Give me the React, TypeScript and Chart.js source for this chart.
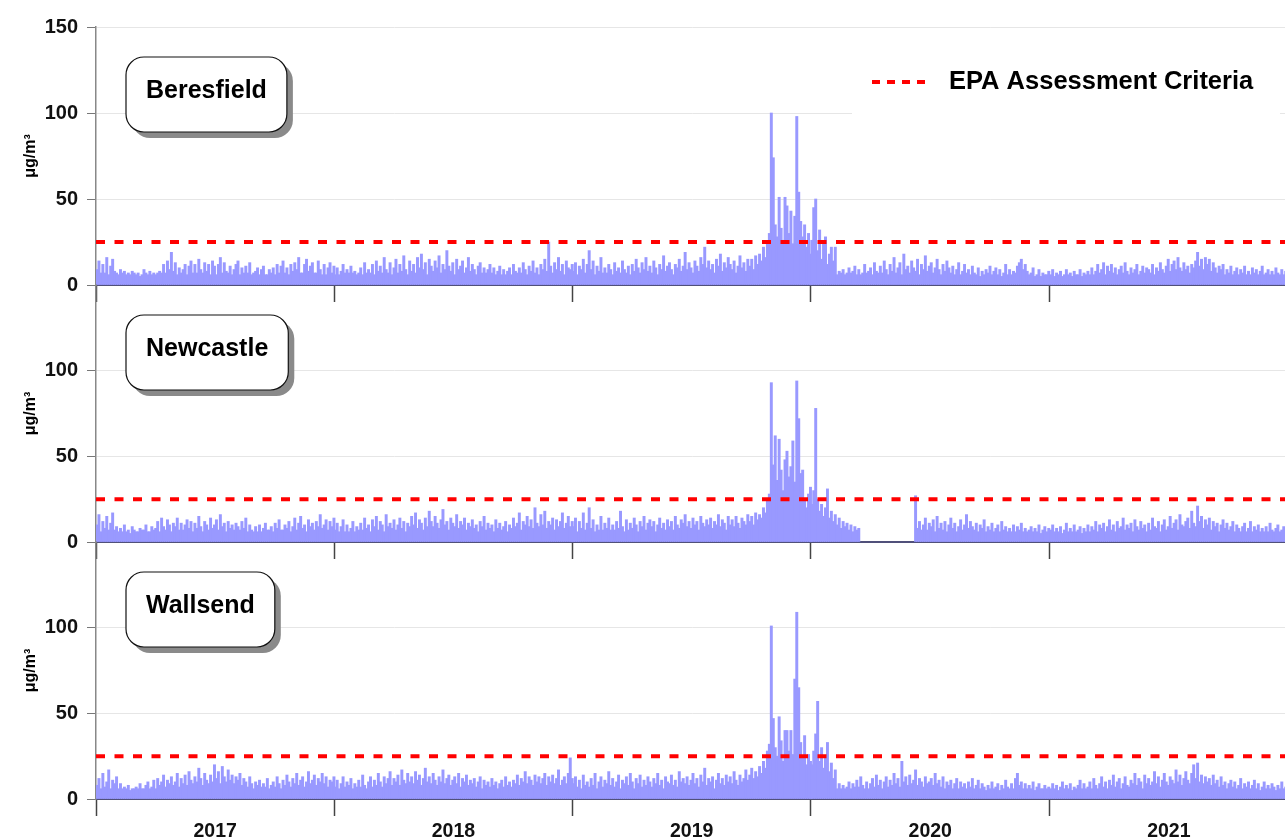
import { useEffect, useRef } from "react";
import { Chart, registerables } from "chart.js";

Chart.register(...registerables);

// PM2.5 24-hour averages, grouped into 3-day bins (122 bins per year)
const BIN_DAYS = 3;
const YEARS = ["2017", "2018", "2019", "2020", "2021"];
const YEAR_DAYS = [365, 365, 365, 366, 365];
const CRITERIA = 25;
const Y_MAX = 150;
const Y_STEP = 50;
const UNIT_LABEL = "μg/m³";
const LEGEND_LABEL = "EPA Assessment Criteria";
const STATION_NAMES = ["Beresfield", "Newcastle", "Wallsend"];

const beresfield2017 = [
  9, 14, 7, 12, 7, 16, 6, 11, 15, 8,
  7, 6, 9, 7, 8, 6, 7, 6, 8, 7,
  6, 7, 5, 6, 9, 7, 6, 8, 6, 7,
  6, 7, 8, 7, 12, 7, 14, 9, 19, 8,
  13, 6, 10, 7, 9, 12, 6, 11, 14, 7,
  12, 7, 15, 9, 7, 13, 8, 12, 6, 14,
  11, 6, 12, 16, 7, 13, 8, 7, 11, 6,
  9, 12, 14, 6, 10, 7, 11, 7, 13, 6,
  7, 8, 10, 6, 9, 11, 6, 6, 9, 7,
  10, 6, 12, 7, 11, 14, 7, 10, 6, 12,
  8, 13, 9, 16, 7, 7, 12, 15, 8, 11,
  13, 7, 7, 14, 9, 6, 12, 6, 10, 13,
  7, 11,
];
const beresfield2018 = [
  6, 10, 6, 8, 12, 7, 9, 7, 11, 7,
  8, 6, 7, 10, 6, 13, 7, 9, 7, 12,
  6, 14, 8, 11, 7, 16, 9, 7, 13, 6,
  10, 15, 7, 12, 8, 17, 9, 6, 14, 8,
  12, 7, 16, 10, 18, 9, 13, 6, 15, 11,
  8, 14, 10, 17, 7, 12, 9, 20, 11, 8,
  13, 6, 15, 9, 11, 14, 7, 10, 16, 8,
  12, 9, 6, 11, 13, 7, 10, 7, 9, 12,
  7, 10, 6, 8, 11, 6, 9, 6, 8, 10,
  6, 12, 8, 7, 10, 7, 13, 9, 6, 11,
  8, 14, 7, 10, 6, 12, 9, 15, 8, 25,
  11, 7, 13, 9, 16, 8, 12, 6, 14, 10,
  9, 12,
];
const beresfield2019 = [
  8, 13, 6, 11, 9, 15, 7, 12, 20, 9,
  14, 6, 11, 8, 16, 7, 10, 7, 12, 9,
  6, 13, 8, 10, 7, 14, 9, 7, 11, 6,
  12, 8, 15, 10, 7, 13, 9, 16, 8, 11,
  7, 14, 10, 6, 12, 9, 17, 8, 11, 13,
  9, 6, 12, 10, 15, 8, 11, 19, 9, 13,
  10, 7, 14, 11, 8, 16, 12, 22, 10, 14,
  9, 12, 7, 15, 11, 18, 8, 13, 10, 16,
  12, 9, 14, 7, 11, 17, 10, 13, 8, 15,
  11, 15, 9, 17, 12, 18, 14, 22, 16, 25,
  30, 100, 74, 35, 28, 51, 33, 26, 51, 46,
  30, 43, 24, 40, 98, 54, 37, 28, 35, 22,
  30, 18,
];
const beresfield2020 = [
  26, 45, 50, 20, 32, 15, 24, 28, 12, 18,
  22, 14, 22, 6, 8, 7, 9, 6, 7, 10,
  7, 8, 11, 6, 9, 6, 7, 12, 7, 8,
  10, 6, 13, 8, 7, 11, 7, 14, 9, 6,
  12, 8, 16, 7, 10, 13, 6, 18, 9, 11,
  7, 14, 10, 8, 15, 6, 12, 9, 17, 8,
  11, 13, 7, 10, 15, 9, 6, 12, 8, 14,
  10, 7, 11, 6, 9, 13, 6, 8, 12, 7,
  9, 6, 11, 7, 6, 10, 5, 8, 6, 9,
  7, 11, 6, 8, 10, 6, 9, 5, 7, 12,
  6, 9, 6, 8, 7, 11, 13, 15, 9, 12,
  8, 6, 7, 10, 5, 6, 9, 5, 7, 6,
  6, 8,
];
const beresfield2021 = [
  6, 9, 5, 7, 6, 8, 5, 6, 9, 6,
  7, 5, 8, 6, 6, 9, 5, 7, 6, 8,
  6, 10, 6, 8, 12, 7, 9, 13, 6, 11,
  8, 12, 7, 10, 6, 9, 11, 7, 13, 8,
  6, 10, 7, 9, 12, 6, 8, 11, 7, 10,
  9, 7, 12, 6, 10, 8, 13, 9, 7, 11,
  15, 8, 12, 14, 9, 16, 10, 8, 13, 9,
  11, 7, 12, 10, 14, 19, 11, 15, 9, 16,
  12, 15, 8, 13, 10, 7, 11, 9, 12, 6,
  9, 7, 11, 6, 8, 10, 6, 9, 7, 11,
  6, 8, 6, 10, 7, 9, 6, 8, 11, 6,
  7, 9, 6, 8, 6, 10, 7, 6, 9, 6,
  8, 6,
];

const newcastle2017 = [
  10, 16, 6, 12, 8, 15, 7, 11, 17, 7,
  9, 6, 8, 6, 10, 6, 7, 5, 9, 7,
  6, 6, 8, 7, 7, 10, 6, 6, 9, 7,
  8, 12, 6, 14, 9, 7, 13, 10, 6, 11,
  9, 14, 7, 11, 7, 10, 13, 8, 12, 6,
  11, 8, 15, 9, 6, 12, 10, 7, 14, 8,
  10, 13, 7, 16, 9, 11, 6, 12, 8, 10,
  7, 11, 9, 7, 12, 8, 14, 6, 10, 7,
  6, 9, 6, 10, 6, 8, 11, 7, 7, 9,
  6, 11, 8, 13, 7, 7, 10, 8, 12, 6,
  9, 14, 7, 11, 15, 8, 10, 6, 13, 9,
  11, 7, 12, 9, 16, 8, 10, 13, 7, 12,
  9, 14,
];
const newcastle2018 = [
  7, 11, 6, 9, 13, 6, 10, 6, 8, 12,
  6, 9, 7, 11, 7, 14, 8, 10, 6, 13,
  9, 15, 7, 12, 10, 6, 16, 9, 11, 8,
  13, 7, 10, 14, 8, 12, 6, 11, 9, 15,
  10, 17, 8, 13, 11, 7, 14, 9, 18, 12,
  9, 15, 11, 8, 13, 19, 10, 12, 7, 14,
  11, 9, 16, 8, 12, 10, 14, 7, 11, 9,
  13, 8, 10, 6, 12, 9, 15, 7, 11, 8,
  10, 6, 13, 8, 11, 7, 9, 12, 6, 10,
  8, 14, 9, 11, 17, 7, 12, 10, 15, 9,
  13, 8, 20, 11, 9, 16, 10, 18, 8, 12,
  10, 14, 7, 13, 9, 12, 17, 8, 11, 15,
  9, 12,
];
const newcastle2019 = [
  9, 14, 6, 12, 8, 17, 7, 11, 20, 8,
  13, 6, 10, 7, 15, 7, 11, 8, 14, 7,
  10, 7, 12, 8, 18, 9, 6, 13, 7, 11,
  8, 14, 10, 6, 12, 9, 15, 7, 11, 13,
  9, 12, 6, 10, 14, 8, 11, 7, 13, 9,
  12, 7, 15, 10, 8, 13, 11, 16, 9, 12,
  8, 14, 10, 12, 7, 15, 11, 9, 13, 10,
  14, 8, 12, 10, 16, 9, 13, 11, 7, 15,
  10, 13, 9, 15, 11, 8, 14, 12, 10, 16,
  12, 15, 10, 17, 13, 16, 14, 20, 17, 24,
  28, 93, 45, 62, 36, 60, 42, 30, 48, 53,
  38, 44, 59, 35, 94, 72, 40, 42, 24, 20,
  28, 32,
];
// monitor offline from mid-March to early June 2020
const newcastle2020 = [
  22, 30, 78, 25, 18, 22, 15, 20, 31, 14,
  18, 12, 16, 10, 14, 8, 12, 9, 11, 7,
  10, 6, 9, 7, 8, null, null, null, null, null,
  null, null, null, null, null, null, null, null, null, null,
  null, null, null, null, null, null, null, null, null, null,
  null, null, null, 27, 8, 12, 7, 10, 14, 7,
  11, 9, 13, 6, 15, 8, 11, 7, 12, 6,
  10, 14, 8, 11, 6, 9, 13, 7, 10, 16,
  8, 12, 9, 7, 11, 6, 10, 8, 13, 6,
  9, 7, 11, 6, 8, 10, 6, 12, 7, 9,
  6, 8, 6, 10, 6, 9, 7, 11, 6, 8,
  6, 7, 9, 6, 8, 6, 10, 5, 7, 9,
  6, 8,
];
const newcastle2021 = [
  7, 10, 6, 8, 6, 9, 5, 7, 11, 6,
  8, 6, 10, 6, 7, 9, 5, 8, 6, 10,
  6, 9, 7, 12, 6, 10, 8, 11, 6, 9,
  13, 7, 10, 6, 12, 8, 9, 14, 7, 10,
  8, 11, 6, 13, 9, 7, 12, 8, 10, 6,
  11, 7, 14, 9, 8, 12, 6, 10, 13, 7,
  9, 15, 8, 11, 13, 7, 16, 10, 9, 12,
  14, 8, 18, 11, 9, 21, 12, 15, 8, 13,
  10, 14, 7, 12, 9, 11, 6, 10, 13, 8,
  11, 7, 9, 12, 6, 10, 8, 6, 9, 11,
  6, 8, 12, 6, 9, 7, 10, 6, 8, 6,
  9, 6, 11, 7, 6, 8, 10, 6, 7, 9,
  6, 8,
];

const wallsend2017 = [
  8, 12, 6, 15, 7, 10, 17, 6, 11, 9,
  13, 6, 9, 6, 7, 6, 8, 5, 6, 6,
  7, 6, 9, 6, 6, 8, 10, 6, 7, 11,
  6, 12, 8, 10, 14, 7, 11, 9, 13, 8,
  10, 15, 7, 12, 9, 14, 8, 16, 11, 9,
  13, 10, 18, 12, 8, 15, 11, 9, 14, 10,
  20, 12, 16, 9, 19, 13, 10, 17, 11, 14,
  9, 13, 11, 15, 8, 12, 10, 7, 13, 9,
  6, 10, 8, 11, 7, 9, 7, 12, 6, 8,
  10, 7, 13, 9, 6, 11, 8, 14, 10, 7,
  12, 9, 15, 8, 11, 13, 7, 10, 16, 9,
  11, 14, 8, 12, 10, 15, 9, 13, 7, 11,
  10, 13,
];
const wallsend2018 = [
  7, 11, 6, 9, 13, 7, 10, 8, 12, 6,
  9, 7, 11, 7, 14, 8, 6, 10, 13, 7,
  11, 8, 15, 10, 7, 13, 9, 12, 16, 8,
  12, 10, 14, 8, 17, 11, 9, 15, 10, 13,
  9, 16, 11, 14, 8, 12, 18, 10, 13, 9,
  15, 11, 8, 13, 10, 17, 9, 12, 14, 8,
  11, 13, 9, 15, 7, 12, 10, 14, 8, 11,
  9, 12, 7, 10, 13, 6, 11, 8, 10, 7,
  12, 8, 10, 6, 9, 11, 7, 13, 8, 10,
  7, 11, 9, 14, 8, 12, 10, 16, 9, 13,
  11, 8, 14, 10, 13, 9, 12, 15, 8, 13,
  10, 14, 9, 12, 17, 8, 11, 13, 9, 15,
  24, 12,
];
const wallsend2019 = [
  9, 13, 7, 11, 6, 14, 8, 10, 7, 12,
  8, 15, 6, 10, 13, 7, 11, 9, 16, 8,
  12, 7, 10, 14, 6, 11, 9, 13, 8, 15,
  10, 6, 12, 9, 14, 7, 11, 8, 13, 10,
  7, 12, 9, 15, 8, 11, 6, 13, 10, 9,
  14, 8, 11, 7, 16, 10, 12, 9, 13, 8,
  11, 15, 9, 12, 7, 14, 10, 18, 8, 12,
  10, 13, 6, 11, 15, 9, 12, 8, 14, 10,
  13, 9, 16, 11, 8, 14, 10, 12, 17, 11,
  14, 18, 12, 16, 13, 19, 15, 22, 18, 28,
  32, 101, 47, 30, 25, 48, 34, 22, 40, 40,
  28, 40, 26, 70, 109, 65, 33, 24, 37, 20,
  26, 22,
];
const wallsend2020 = [
  20, 28, 38, 57, 22, 30, 18, 25, 33, 16,
  21, 12, 17, 6, 9, 6, 8, 6, 7, 10,
  6, 9, 7, 11, 7, 13, 8, 6, 10, 6,
  9, 12, 7, 14, 8, 11, 6, 10, 13, 7,
  11, 8, 15, 9, 12, 7, 22, 10, 13, 8,
  14, 9, 11, 17, 8, 12, 10, 7, 13, 9,
  10, 12, 8, 15, 9, 11, 7, 13, 6, 10,
  8, 11, 6, 9, 12, 6, 10, 7, 9, 6,
  10, 7, 12, 6, 8, 11, 6, 9, 7, 5,
  8, 6, 10, 6, 7, 9, 5, 8, 6, 11,
  7, 6, 9, 6, 12, 15, 8, 10, 6, 9,
  6, 8, 6, 10, 5, 7, 9, 6, 6, 8,
  6, 7,
];
const wallsend2021 = [
  6, 9, 6, 8, 5, 7, 10, 6, 8, 6,
  9, 5, 7, 6, 8, 11, 6, 9, 6, 7,
  10, 6, 12, 8, 6, 9, 13, 7, 10, 6,
  11, 8, 14, 7, 10, 12, 6, 9, 13, 8,
  7, 11, 9, 15, 8, 12, 10, 6, 14, 9,
  12, 8, 10, 16, 9, 13, 7, 11, 15, 10,
  8, 13, 11, 9, 17, 10, 14, 8, 12, 16,
  11, 9, 15, 20, 12, 21, 10, 14, 9, 13,
  10, 12, 8, 14, 9, 11, 7, 13, 8, 10,
  6, 9, 11, 7, 10, 6, 8, 12, 6, 9,
  7, 10, 6, 8, 11, 6, 9, 5, 7, 10,
  6, 8, 6, 9, 7, 5, 8, 6, 10, 6,
  7, 6,
];

const STATION_SERIES: (number | null)[][][] = [
  [beresfield2017, beresfield2018, beresfield2019, beresfield2020, beresfield2021],
  [newcastle2017, newcastle2018, newcastle2019, newcastle2020, newcastle2021],
  [wallsend2017, wallsend2018, wallsend2019, wallsend2020, wallsend2021],
];

// Day offsets of each year start, year middles and the full span
const YEAR_START: number[] = [];
YEAR_DAYS.forEach((d, i) => YEAR_START.push(i === 0 ? 0 : YEAR_START[i - 1] + YEAR_DAYS[i - 1]));
const TOTAL_DAYS = YEAR_DAYS.reduce((a, b) => a + b, 0);
const YEAR_MIDS = YEAR_START.map((s, i) => s + YEAR_DAYS[i] / 2);
const BOUNDARIES = [...YEAR_START, TOTAL_DAYS];
const X_TICK_VALUES = [...BOUNDARIES, ...YEAR_MIDS].sort((a, b) => a - b);

function toPoints(years: (number | null)[][]) {
  const pts: { x: number; y: number | null }[] = [];
  years.forEach((vals, yi) => {
    vals.forEach((v, j) => {
      pts.push({ x: YEAR_START[yi] + BIN_DAYS * j + BIN_DAYS / 2, y: v });
    });
  });
  return pts;
}

// Page layout (pixels)
const FRAME_W = 1285;
const FRAME_H = 838;
const CANVAS_W = 1292;
const PLOT_LEFT = 96;
const PLOT_RIGHT = 1291;
const PANEL_TOP = [27, 285, 542];
const PANEL_BOTTOM = [285, 542, 799];
const CANVAS_TOP = [0, 261, 518];
const AXIS_H = [24, 24, 39];

const FONT = 'Arial, "Liberation Sans", Helvetica, sans-serif';
const BAR_COLOR = "#9999ff";
const CRITERIA_COLOR = "#ff0000";

function decorPlugin(name: string, withLegend: boolean) {
  return {
    id: "panelDecor",
    afterDraw(chart: any) {
      const { ctx, chartArea } = chart;
      ctx.save();
      // station name box with drop shadow
      ctx.font = `bold 25px ${FONT}`;
      const tw = ctx.measureText(name).width;
      const w = tw + 40;
      const h = 75;
      const x = chartArea.left + 30;
      const y = chartArea.top + 30;
      const r = 18;
      ctx.fillStyle = "#8a8a8a";
      ctx.beginPath();
      ctx.roundRect(x + 6, y + 6, w, h, r);
      ctx.fill();
      ctx.fillStyle = "#ffffff";
      ctx.beginPath();
      ctx.roundRect(x, y, w, h, r);
      ctx.fill();
      ctx.lineWidth = 1.2;
      ctx.strokeStyle = "#111111";
      ctx.stroke();
      ctx.fillStyle = "#000000";
      ctx.textAlign = "center";
      ctx.textBaseline = "middle";
      ctx.fillText(name, x + w / 2, y + h / 2 - 3);

      if (withLegend) {
        ctx.fillStyle = "#ffffff";
        ctx.fillRect(852, 52, 428, 63);
        ctx.strokeStyle = CRITERIA_COLOR;
        ctx.lineWidth = 4;
        ctx.setLineDash([8, 7]);
        ctx.beginPath();
        ctx.moveTo(872, 82);
        ctx.lineTo(932, 82);
        ctx.stroke();
        ctx.setLineDash([]);
        ctx.fillStyle = "#000000";
        ctx.textAlign = "left";
        ctx.font = `bold 25.5px ${FONT}`;
        ctx.fillText(LEGEND_LABEL, 949, 82);
      }
      ctx.restore();
    },
  };
}

function Panel({ index }: { index: number }) {
  const ref = useRef<HTMLCanvasElement | null>(null);
  const canvasTop = CANVAS_TOP[index];
  const padTop = PANEL_TOP[index] - canvasTop;
  const canvasH = padTop + (PANEL_BOTTOM[index] - PANEL_TOP[index]) + AXIS_H[index];
  const showYears = index === STATION_NAMES.length - 1;

  useEffect(() => {
    if (!ref.current) return;
    const name = STATION_NAMES[index];
    const chart = new Chart(ref.current, {
      type: "bar",
      data: {
        datasets: [
          {
            type: "line",
            label: LEGEND_LABEL,
            data: [
              { x: 0, y: CRITERIA },
              { x: TOTAL_DAYS, y: CRITERIA },
            ],
            borderColor: CRITERIA_COLOR,
            borderWidth: 4,
            borderDash: [9, 9.5],
            pointRadius: 0,
            fill: false,
            order: 0,
          } as any,
          {
            type: "bar",
            label: name,
            data: toPoints(STATION_SERIES[index]) as any,
            backgroundColor: BAR_COLOR,
            borderWidth: 0,
            barThickness: 2.3,
            order: 1,
          } as any,
        ],
      },
      options: {
        animation: false,
        responsive: false,
        events: [],
        layout: {
          padding: { top: padTop, right: CANVAS_W - PLOT_RIGHT, bottom: 0, left: 0 },
        },
        plugins: {
          legend: { display: false },
          tooltip: { enabled: false },
          title: { display: false },
        },
        scales: {
          x: {
            type: "linear",
            min: 0,
            max: TOTAL_DAYS,
            offset: false,
            z: 1,
            afterBuildTicks: (s: any) => {
              s.ticks = X_TICK_VALUES.map((v) => ({ value: v }));
            },
            afterFit: (s: any) => {
              s.height = AXIS_H[index];
            },
            ticks: {
              autoSkip: false,
              maxRotation: 0,
              minRotation: 0,
              padding: 4,
              color: "#111111",
              font: { family: FONT, size: 19.5, weight: "bold" },
              callback: (v: any) => {
                if (!showYears) return "";
                const k = YEAR_MIDS.indexOf(Number(v));
                return k >= 0 ? YEARS[k] : "";
              },
            },
            grid: {
              drawOnChartArea: false,
              drawTicks: true,
              tickLength: 17,
              offset: false,
              color: "rgba(0,0,0,0)",
              tickColor: (c: any) =>
                c.tick && BOUNDARIES.includes(c.tick.value) ? "#444444" : "rgba(0,0,0,0)",
              tickWidth: 1.5,
            },
            border: { display: true, color: "#50507a", width: 2 },
          },
          y: {
            type: "linear",
            min: 0,
            max: Y_MAX,
            afterFit: (s: any) => {
              s.width = PLOT_LEFT;
            },
            ticks: {
              stepSize: Y_STEP,
              padding: 9,
              color: "#111111",
              font: { family: FONT, size: 20, weight: "bold" },
              callback: (v: any) => (index > 0 && Number(v) === Y_MAX ? "" : String(v)),
            },
            grid: {
              color: (c: any) =>
                c.tick && (c.tick.value === 0 || (index > 0 && c.tick.value === Y_MAX))
                  ? "rgba(0,0,0,0)"
                  : "#e6e6e6",
              lineWidth: 1,
              drawTicks: true,
              tickLength: 9,
              tickColor: "#777777",
            },
            border: { display: true, color: "#888888", width: 1.5 },
            title: {
              display: true,
              text: UNIT_LABEL,
              color: "#000000",
              font: { family: FONT, size: 16, weight: "bold" },
              padding: { top: 21, bottom: 0 },
            },
          },
        },
      } as any,
      plugins: [decorPlugin(name, index === 0)],
    });
    return () => chart.destroy();
  }, [index]);

  return (
    <canvas
      ref={ref}
      width={CANVAS_W}
      height={canvasH}
      style={{ position: "absolute", left: 0, top: canvasTop, width: CANVAS_W, height: canvasH }}
    />
  );
}

export default function App() {
  return (
    <div
      style={{
        position: "absolute",
        left: 0,
        top: 0,
        width: FRAME_W,
        height: FRAME_H,
        overflow: "hidden",
        background: "#ffffff",
      }}
    >
      {STATION_NAMES.map((n, i) => (
        <Panel key={n} index={i} />
      ))}
    </div>
  );
}
